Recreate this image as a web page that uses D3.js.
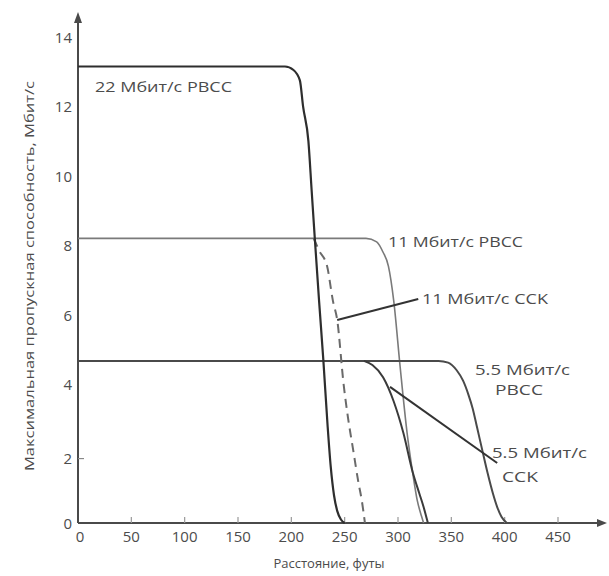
<!DOCTYPE html>
<html>
<head>
<meta charset="utf-8">
<script src="https://cdn.jsdelivr.net/npm/d3@7"></script>
<style>
  html, body { margin: 0; padding: 0; background: #fff; }
  svg text { font-family: "Open Sans", "DejaVu Sans", sans-serif; fill: #4c4c4c; }
</style>
</head>
<body>
<svg id="chart" width="609" height="576"></svg>
<script>
// Distance (feet) and throughput (Mbit/s) for each 802.11b/g mode
const rate22pbccDist = [0, 194, 202, 208, 211, 216, 219, 222, 226, 230, 234, 237, 240, 243, 246.5, 250];
const rate22pbccVal  = [13.15, 13.15, 13.05, 12.75, 12.0, 11.0, 9.6, 8.2, 6.4, 4.7, 2.8, 1.6, 0.8, 0.35, 0.1, 0];

const rate11pbccDist = [0, 270, 280, 286, 291, 296, 302, 308.5, 314, 318, 322, 324];
const rate11pbccVal  = [8.2, 8.2, 8.1, 7.8, 7.4, 6.4, 4.5, 2.6, 1.4, 0.66, 0.2, 0];

const rate11cckDist = [221, 226, 233.5, 239, 243, 249, 253, 258, 263, 266, 269];
const rate11cckVal  = [8.2, 7.85, 7.4, 6.4, 5.85, 4.0, 3.06, 2.1, 1.15, 0.66, 0];

const rate55pbccDist = [0, 338, 347, 355, 361, 366, 370, 374, 379, 384, 389, 393, 397, 402];
const rate55pbccVal  = [4.67, 4.67, 4.62, 4.4, 4.1, 3.7, 3.3, 2.77, 2.1, 1.44, 0.85, 0.46, 0.18, 0];

const rate55cckDist = [268, 276, 286, 296, 305, 314, 320, 324, 328];
const rate55cckVal  = [4.67, 4.55, 4.2, 3.5, 2.6, 1.44, 0.85, 0.46, 0];

// Axis ticks
const xTicks = [0, 50, 100, 150, 200, 250, 300, 350, 400, 450];
const yTicks = [0, 2, 4, 6, 8, 10, 12, 14];

const xTitle = "Расстояние, футы";
const yTitle = "Максимальная пропускная способность, Мбит/с";

const svg = d3.select("#chart");
const x = d3.scaleLinear().domain([0, 450]).range([78, 558]);
const y = d3.scaleLinear().domain([0, 14]).range([523, 37]);

const zip = (xs, ys) => xs.map((d, i) => [d, ys[i]]);
const line = d3.line().x(d => x(d[0])).y(d => y(d[1])).curve(d3.curveMonotoneX);

// Axes with arrowheads
const axisColor = "#4a4a4a";
svg.append("line").attr("x1", x(0)).attr("x2", 603).attr("y1", y(0)).attr("y2", y(0))
  .attr("stroke", axisColor).attr("stroke-width", 2);
svg.append("path").attr("d", `M607,${y(0)} L597,${y(0) - 4} L597,${y(0) + 4} Z`).attr("fill", axisColor);
svg.append("line").attr("x1", x(0)).attr("x2", x(0)).attr("y1", y(0)).attr("y2", 18)
  .attr("stroke", axisColor).attr("stroke-width", 2);
svg.append("path").attr("d", `M${x(0)},12 L${x(0) - 4},23 L${x(0) + 4},23 Z`).attr("fill", axisColor);

// x tick marks and labels
svg.selectAll(".xtick").data(xTicks.filter(d => d > 0)).join("line")
  .attr("x1", d => x(d)).attr("x2", d => x(d))
  .attr("y1", y(0)).attr("y2", y(0) - 6)
  .attr("stroke", "#999").attr("stroke-width", 1.2);
svg.selectAll(".xlab").data(xTicks).join("text")
  .attr("x", d => x(d) + (d === 0 ? 2 : 0)).attr("y", y(0) + 19)
  .attr("text-anchor", "middle").attr("font-size", 15)
  .text(d => d);

// y tick labels
svg.selectAll(".ylab").data(yTicks).join("text")
  .attr("x", 72).attr("y", d => y(d) + 6 + (d === 2 ? 4 : 0))
  .attr("text-anchor", "end").attr("font-size", 15)
  .text(d => d);
svg.append("line").attr("x1", x(0)).attr("x2", x(0) + 6).attr("y1", y(2) + 5).attr("y2", y(2) + 5)
  .attr("stroke", "#888").attr("stroke-width", 1.2);

// axis titles
svg.append("text").attr("x", 329).attr("y", 568).attr("text-anchor", "middle")
  .attr("font-size", 13).text(xTitle);
svg.append("text").attr("transform", "translate(34,276) rotate(-90)").attr("text-anchor", "middle")
  .attr("font-size", 13).attr("textLength", 390).attr("lengthAdjust", "spacingAndGlyphs").text(yTitle);

// curves
const series = [
  { pts: zip(rate11pbccDist, rate11pbccVal), color: "#7a7a7a", width: 1.6, dash: null },
  { pts: zip(rate55pbccDist, rate55pbccVal), color: "#4a4a4a", width: 2, dash: null },
  { pts: zip(rate55cckDist, rate55cckVal), color: "#3a3a3a", width: 2, dash: null },
  { pts: zip(rate11cckDist, rate11cckVal), color: "#6a6a6a", width: 2, dash: "9,6" },
  { pts: zip(rate22pbccDist, rate22pbccVal), color: "#2e2e2e", width: 2.2, dash: null }
];
svg.selectAll(".series").data(series).join("path")
  .attr("d", d => line(d.pts))
  .attr("fill", "none")
  .attr("stroke", d => d.color)
  .attr("stroke-width", d => d.width)
  .attr("stroke-dasharray", d => d.dash);

// leader lines for the CCK labels
const leaders = [
  [[243, 5.85], [319, 6.45]],
  [[292.5, 3.92], [393, 1.73]]
];
svg.selectAll(".leader").data(leaders).join("line")
  .attr("x1", d => x(d[0][0])).attr("y1", d => y(d[0][1]))
  .attr("x2", d => x(d[1][0])).attr("y2", d => y(d[1][1]))
  .attr("stroke", "#333").attr("stroke-width", 2);

// series labels
const labels = [
  { t: "22 Мбит/с PBCC", px: 95, py: 92, w: 137, anchor: "start" },
  { t: "11 Мбит/с PBCC", px: 388, py: 247, w: 135, anchor: "start" },
  { t: "11 Мбит/с CCK", px: 422, py: 304, w: 126, anchor: "start" },
  { t: "5.5 Мбит/с", px: 475, py: 375, w: 95, anchor: "start" },
  { t: "PBCC", px: 495, py: 395, w: 48, anchor: "start" },
  { t: "5.5 Мбит/с", px: 492, py: 458, w: 95, anchor: "start" },
  { t: "CCK", px: 502, py: 482, w: 36, anchor: "start" }
];
svg.selectAll(".lab").data(labels).join("text")
  .attr("x", d => d.px).attr("y", d => d.py)
  .attr("font-size", 15).attr("text-anchor", d => d.anchor)
  .attr("textLength", d => d.w).attr("lengthAdjust", "spacingAndGlyphs")
  .text(d => d.t);
</script>
</body>
</html>
